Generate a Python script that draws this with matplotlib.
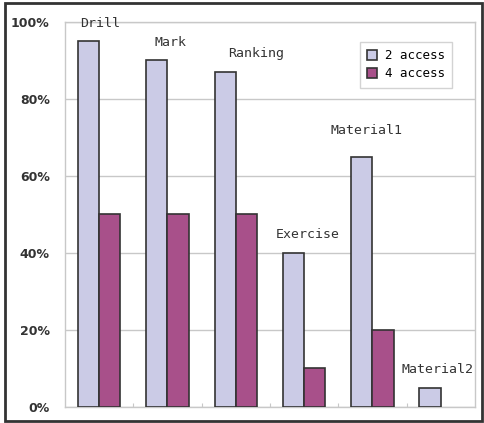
import matplotlib
matplotlib.use('Agg')
import matplotlib.pyplot as plt
import numpy as np
from matplotlib.patches import Rectangle

# -----------------------------------------------------------------------
# Data
# -----------------------------------------------------------------------
categories   = ["Drill", "Mark", "Ranking", "Exercise", "Material1", "Material2"]
access_2     = [95, 90, 87, 40, 65, 5]
access_4     = [50, 50, 50, 10, 20, 0]
series_names = ["2 access", "4 access"]
y_ticks      = [0, 20, 40, 60, 80, 100]

LIGHT = "#cbcbe6"
DARK  = "#a8508a"
GRID  = "#c8c8c8"

# -----------------------------------------------------------------------
# Plot
# -----------------------------------------------------------------------
fig = plt.figure(figsize=(4.85, 4.23), dpi=100)
ax = fig.add_axes([0.134, 0.038, 0.845, 0.910])

x = np.arange(len(categories))
w = 0.31
ax.bar(x - w / 2, access_2, w, color=LIGHT, edgecolor="#333333",
       linewidth=1.2, label=series_names[0], zorder=3)
# zero-height bars are not drawn in the reference
vals4 = [v if v > 0 else np.nan for v in access_4]
ax.bar(x + w / 2, vals4, w, color=DARK, edgecolor="#333333",
       linewidth=1.2, label=series_names[1], zorder=3)

# category labels sit loosely above the light bars
label_dx = [0.02, 0.05, 0.3, 0.06, -0.09, -0.04]
label_dy = [3, 3, 3, 3, 5, 3]
for xi, name, v, dx, dy in zip(x, categories, access_2, label_dx, label_dy):
    ax.text(xi + dx, v + dy, name, ha="center", va="bottom",
            family="DejaVu Sans Mono", fontsize=9.5, color="#333333")

ax.set_xlim(-0.5, len(categories) - 0.5)
ax.set_ylim(0, 100)
ax.set_yticks(y_ticks)
ax.set_yticklabels([f"{t}%" for t in y_ticks], fontsize=9,
                   fontweight="bold", color="#333333")
ax.tick_params(axis="y", length=0, pad=11)
ax.set_xticks(np.arange(len(categories) - 1) + 0.5)
ax.set_xticklabels([])
ax.tick_params(axis="x", length=3, color=GRID, direction="in")

ax.grid(True, axis="y", color=GRID, linewidth=1, zorder=0)
for s in ax.spines.values():
    s.set_color(GRID)
    s.set_linewidth(1)

leg = ax.legend(loc="upper right", bbox_to_anchor=(0.96, 0.965),
                frameon=True, fancybox=False,
                handlelength=0.8, handleheight=0.8, handletextpad=0.6,
                borderpad=0.6, labelspacing=0.4,
                prop={"family": "DejaVu Sans Mono", "size": 9})
leg.get_frame().set_edgecolor(GRID)
leg.get_frame().set_linewidth(1)

# outer border around the whole picture
fig.patches.append(Rectangle((0.011, 0.005), 0.983, 0.988,
                             transform=fig.transFigure, fill=False,
                             edgecolor="#333333", linewidth=2))

fig.savefig("out.png", dpi=100)
